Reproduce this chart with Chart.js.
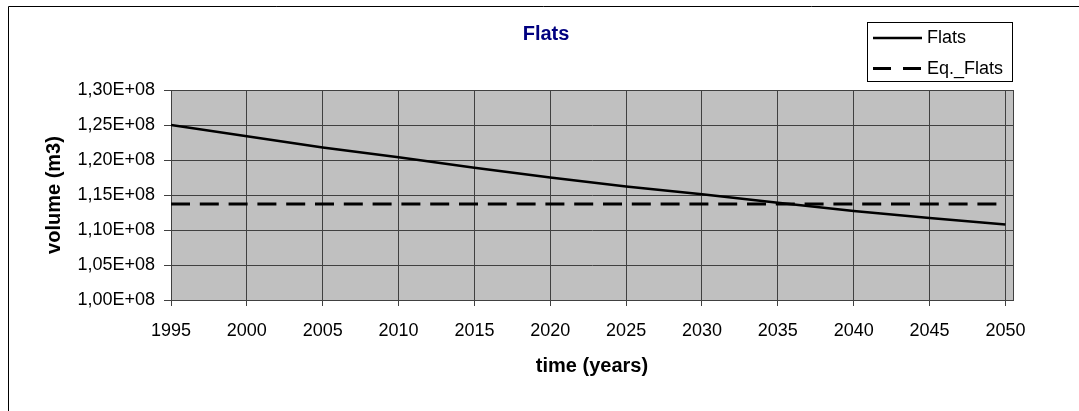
<!DOCTYPE html>
<html>
<head>
<meta charset="utf-8">
<title>Flats</title>
<script src="https://cdn.jsdelivr.net/npm/chart.js@4/dist/chart.umd.min.js"></script>
<style>
  html, body { margin: 0; padding: 0; background: #ffffff; }
  canvas { display: block; }
</style>
</head>
<body>
<canvas id="chart" width="1079" height="411"></canvas>
<script>
// Volume of flats over time and its equilibrium level
const years = [1995, 2000, 2005, 2010, 2015, 2020, 2025, 2030, 2035, 2040, 2045, 2050];
const flats = [1.250e8, 1.234e8, 1.218e8, 1.204e8, 1.189e8, 1.175e8, 1.162e8, 1.151e8, 1.139e8, 1.127e8, 1.117e8, 1.108e8];
const eqFlats = [1.137e8, 1.137e8, 1.137e8, 1.137e8, 1.137e8, 1.137e8, 1.137e8, 1.137e8, 1.137e8, 1.137e8, 1.137e8, 1.137e8];
const seriesNames = ['Flats', 'Eq._Flats'];

const xTicks = [1995, 2000, 2005, 2010, 2015, 2020, 2025, 2030, 2035, 2040, 2045, 2050];
const xTickLabels = ['1995', '2000', '2005', '2010', '2015', '2020', '2025', '2030', '2035', '2040', '2045', '2050'];
const yTicks = [1.00e8, 1.05e8, 1.10e8, 1.15e8, 1.20e8, 1.25e8, 1.30e8];
const yTickLabels = ['1,00E+08', '1,05E+08', '1,10E+08', '1,15E+08', '1,20E+08', '1,25E+08', '1,30E+08'];

const chartTitle = 'Flats';
const xTitle = 'time (years)';
const yTitle = 'volume (m3)';

const FONT = "'Liberation Sans', Arial, Helvetica, sans-serif";
Chart.defaults.font.family = FONT;
Chart.defaults.color = '#000000';

const toPoints = (xs, ys) => xs.map((x, i) => ({ x: x, y: ys[i] }));

// Grey plot background, plot frame, outer frame, title and legend box
const decor = {
  id: 'decor',
  beforeDraw(chart) {
    const { ctx, chartArea: a } = chart;
    ctx.save();
    ctx.fillStyle = '#c0c0c0';
    ctx.fillRect(a.left, a.top, a.right - a.left, a.bottom - a.top);
    ctx.restore();
  },
  beforeDatasetsDraw(chart) {
    const { ctx, chartArea: a } = chart;
    ctx.save();
    ctx.strokeStyle = '#404040';
    ctx.lineWidth = 1;
    ctx.strokeRect(Math.round(a.left) + 0.5, Math.round(a.top) + 0.5,
                   Math.round(a.right - a.left), Math.round(a.bottom - a.top));
    ctx.restore();
  },
  afterDraw(chart) {
    const { ctx } = chart;
    ctx.save();
    // outer frame (left and top edges)
    ctx.strokeStyle = '#000000';
    ctx.lineWidth = 1;
    ctx.beginPath();
    ctx.moveTo(8.5, 411);
    ctx.lineTo(8.5, 6.5);
    ctx.lineTo(1079, 6.5);
    ctx.stroke();

    // title
    ctx.fillStyle = '#000080';
    ctx.font = 'bold 20px ' + FONT;
    ctx.textAlign = 'center';
    ctx.textBaseline = 'middle';
    ctx.fillText(chartTitle, 546, 34);

    // legend
    const bx = 867.5, by = 22.5, bw = 145, bh = 59;
    ctx.fillStyle = '#ffffff';
    ctx.fillRect(bx, by, bw, bh);
    ctx.strokeStyle = '#000000';
    ctx.lineWidth = 1;
    ctx.strokeRect(bx, by, bw, bh);
    const rows = [38, 68.5];
    chart.data.datasets.forEach((ds, i) => {
      const y = rows[i];
      ctx.beginPath();
      ctx.strokeStyle = ds.borderColor;
      ctx.lineWidth = ds.borderWidth;
      ctx.setLineDash(ds.borderDash && ds.borderDash.length ? [18, 12] : []);
      ctx.moveTo(873, y);
      ctx.lineTo(922, y);
      ctx.stroke();
      ctx.setLineDash([]);
      ctx.fillStyle = '#000000';
      ctx.font = '18px ' + FONT;
      ctx.textAlign = 'left';
      ctx.textBaseline = 'middle';
      ctx.fillText(ds.label, 927, y + 0.5);
    });
    ctx.restore();
  }
};

new Chart(document.getElementById('chart'), {
  type: 'line',
  data: {
    datasets: [
      {
        label: seriesNames[0],
        data: toPoints(years, flats),
        borderColor: '#000000',
        borderWidth: 2.5,
        pointRadius: 0,
        tension: 0,
        fill: false
      },
      {
        label: seriesNames[1],
        data: toPoints(years, eqFlats),
        borderColor: '#000000',
        borderWidth: 3,
        borderDash: [19, 9.8],
        pointRadius: 0,
        tension: 0,
        fill: false
      }
    ]
  },
  options: {
    responsive: false,
    animation: false,
    events: [],
    layout: { padding: { left: 0, top: 90, right: 66, bottom: 0 } },
    plugins: {
      legend: { display: false },
      title: { display: false },
      tooltip: { enabled: false }
    },
    scales: {
      x: {
        type: 'linear',
        min: 1995,
        max: 2050.5,
        afterFit(scale) { scale.height = 111; },
        afterBuildTicks(scale) { scale.ticks = xTicks.map(v => ({ value: v })); },
        ticks: {
          autoSkip: false,
          maxRotation: 0,
          padding: 14,
          font: { size: 18 },
          color: '#000000',
          callback: (value, index) => xTickLabels[index]
        },
        grid: {
          color: '#404040',
          lineWidth: 1,
          drawOnChartArea: true,
          drawTicks: true,
          tickLength: 6,
          tickColor: '#404040'
        },
        border: { display: true, color: '#000000', width: 1 },
        title: {
          display: true,
          text: xTitle,
          font: { size: 20, weight: 'bold' },
          color: '#000000',
          padding: { top: 0, bottom: 33 }
        }
      },
      y: {
        type: 'linear',
        min: 1.00e8,
        max: 1.30e8,
        afterFit(scale) { scale.width = 171; },
        afterBuildTicks(scale) { scale.ticks = yTicks.map(v => ({ value: v })); },
        ticks: {
          padding: 9,
          font: { size: 18 },
          color: '#000000',
          callback: (value, index) => yTickLabels[index]
        },
        grid: {
          color: '#404040',
          lineWidth: 1,
          drawOnChartArea: true,
          drawTicks: true,
          tickLength: 7,
          tickColor: '#404040'
        },
        border: { display: true, color: '#000000', width: 1 },
        title: {
          display: true,
          text: yTitle,
          font: { size: 20, weight: 'bold' },
          color: '#000000',
          padding: { top: 42, bottom: 0 }
        }
      }
    }
  },
  plugins: [decor]
});
</script>
</body>
</html>
